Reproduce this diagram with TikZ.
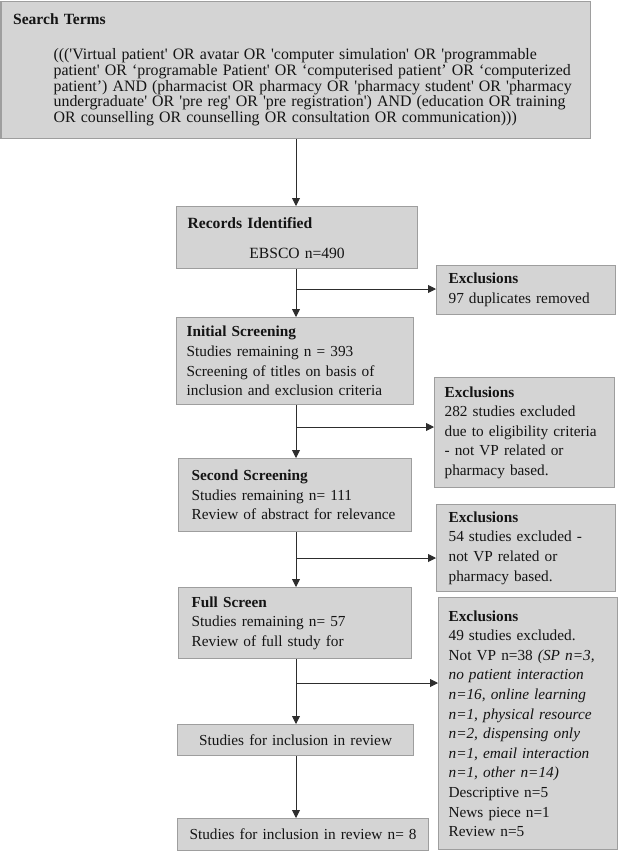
\documentclass[tikz,border=0pt]{standalone}
\usepackage{fontspec}
\setmainfont{Liberation Serif}[Ligatures=TeXOff]
\usepackage{tikz}
\usetikzlibrary{shapes,arrows.meta}
\definecolor{boxfill}{RGB}{212,212,212}
\definecolor{boxline}{RGB}{158,158,158}
\definecolor{textdark}{RGB}{20,20,20}
\definecolor{linedark}{RGB}{45,45,45}
\newcommand{\boxfont}{\fontsize{15.3}{19.6}\selectfont}
\tikzstyle{block} = [rectangle, draw=boxline, fill=boxfill, line width=1.2pt,
anchor=north west, inner xsep=11pt, inner ysep=0pt, align=left, font=\boxfont, text=textdark]
\tikzstyle{line} = [draw=linedark, line width=0.9pt, -{Triangle[length=8pt,width=8pt]}]

\begin{document}
\begin{tikzpicture}[x=1pt,y=-1pt]
	\useasboundingbox (0,0) rectangle (618,852);
	% Search terms
	\node [block, text width=565pt, inner xsep=12pt, minimum height=137pt] (search) at (0.5,1) {\fontsize{15.6}{19.6}\selectfont\textbf{Search Terms}\par\vspace{19pt}%
	{\leftskip=40.5pt \fontsize{15.9}{15.8}\selectfont
	((('Virtual patient' OR avatar OR 'computer simulation' OR 'programmable\\
	patient' OR ‘programable Patient' OR ‘computerised patient’ OR ‘computerized\\
	patient’) AND (pharmacist OR pharmacy OR 'pharmacy student' OR 'pharmacy\\
	undergraduate' OR 'pre reg' OR 'pre registration') AND (education OR training\\
	OR counselling OR counselling OR consultation OR communication)))\par}};
	% Main column
	\node [block, text width=219pt, minimum height=62pt] (records) at (176,206) {\fontsize{15.6}{19.6}\selectfont\textbf{Records Identified}\\[10.4pt]\makebox[\hsize][c]{EBSCO n=490}};
	\node [block, text width=217pt, inner xsep=10pt, minimum height=87pt] (initial) at (176,317) {\textbf{Initial Screening}\\Studies remaining n = 393\\Screening of titles on basis of\\inclusion and exclusion criteria};
	\node [block, text width=211pt, inner xsep=11pt, minimum height=73pt] (second) at (178,458) {\hspace*{2pt}\textbf{Second Screening}\\\hspace*{2pt}Studies remaining n= 111\\\hspace*{2pt}Review of abstract for relevance};
	\node [block, text width=211pt, inner xsep=11pt, minimum height=71pt] (full) at (178,587) {\hspace*{2pt}\textbf{Full Screen}\\\hspace*{2pt}Studies remaining n= 57\\\hspace*{2pt}Review of full study for};
	\node [block, text width=220pt, align=center, inner xsep=8pt, minimum height=31pt] (incl) at (177,724) {Studies for inclusion in review};
	\node [block, text width=239pt, align=center, inner xsep=6pt, minimum height=32pt] (final) at (177,818) {Studies for inclusion in review n= 8};
	% Exclusions
	\node [block, text width=159pt, inner xsep=10pt, minimum height=49pt] (excl1) at (436,265) {\hspace*{2pt}\textbf{Exclusions}\\\hspace*{2pt}97 duplicates removed};
	\node [block, text width=160pt, inner xsep=10pt, minimum height=110pt] (excl2) at (434,377) {\textbf{Exclusions}\\282 studies excluded\\due to eligibility criteria\\- not VP related or\\pharmacy based.};
	\node [block, text width=159pt, inner xsep=10pt, minimum height=87pt] (excl3) at (436,504) {\hspace*{2pt}\textbf{Exclusions}\\\hspace*{2pt}54 studies excluded -\\\hspace*{2pt}not VP related or\\\hspace*{2pt}pharmacy based.};
	\node [block, text width=163pt, inner xsep=8pt, minimum height=252pt] (excl4) at (438,597) {\hspace*{2pt}\textbf{Exclusions}\\\hspace*{2pt}49 studies excluded.\\\hspace*{2pt}Not VP n=38 \textit{(SP n=3,}\\\hspace*{2pt}\textit{no patient interaction}\\\hspace*{2pt}\textit{n=16, online learning}\\\hspace*{2pt}\textit{n=1, physical resource}\\\hspace*{2pt}\textit{n=2, dispensing only}\\\hspace*{2pt}\textit{n=1, email interaction}\\\hspace*{2pt}\textit{n=1, other n=14)}\\\hspace*{2pt}Descriptive n=5\\\hspace*{2pt}News piece n=1\\\hspace*{2pt}Review n=5};
	% Draw edges
	\coordinate (spine) at (296,0);
	\coordinate (b1) at (296,289);
	\coordinate (b2) at (296,427);
	\coordinate (b3) at (296,558);
	\coordinate (b4) at (296,683);
	\path [line] (search.south -| spine) -- (records.north -| spine);
	\path [line] (records.south -| spine) -- (initial.north -| spine);
	\path [line] (initial.south -| spine) -- (second.north -| spine);
	\path [line] (second.south -| spine) -- (full.north -| spine);
	\path [line] (full.south -| spine) -- (incl.north -| spine);
	\path [line] (incl.south -| spine) -- (final.north -| spine);
	\path [line] (b1) -- (b1 -| excl1.west);
	\path [line] (b2) -- (b2 -| excl2.west);
	\path [line] (b3) -- (b3 -| excl3.west);
	\path [line] (b4) -- (b4 -| excl4.west);
\end{tikzpicture}
\end{document}
